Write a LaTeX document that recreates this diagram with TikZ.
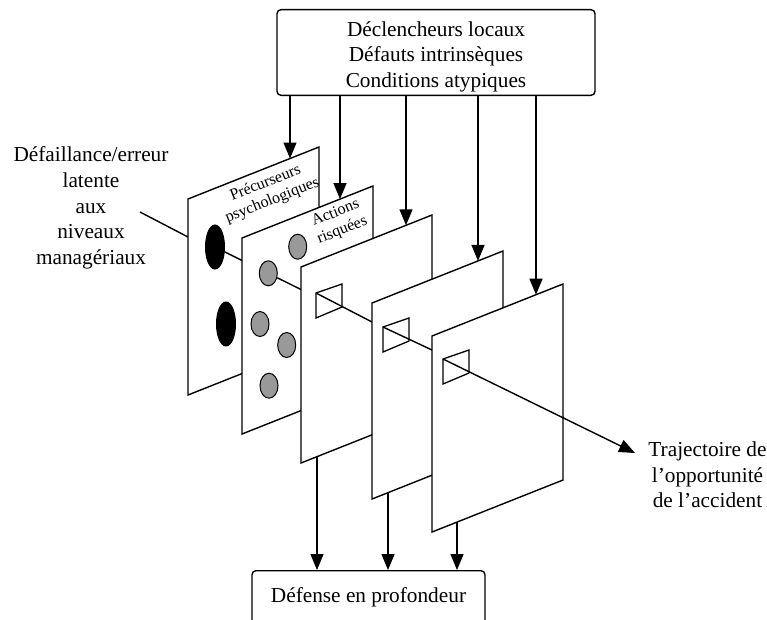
\documentclass[tikz,border=0pt]{standalone}
\usepackage{fontspec}
\setmainfont{Liberation Serif}
\usetikzlibrary{arrows.meta,calc,shapes.geometric}
\definecolor{holegrey}{RGB}{153,153,153}
\begin{document}
\begin{tikzpicture}[x=1pt,y=-1pt,
  lw/.style={line width=1.4pt},
  arr/.style={lw, -{Triangle[length=16pt,width=13pt]}},
  panel/.style={lw, fill=white, line join=miter},
  bigtxt/.style={font=\fontsize{21.3}{25.7}\selectfont, align=center},
  smalltxt/.style={font=\fontsize{16}{18.5}\selectfont, align=center, inner sep=0pt},
  blackhole/.style={ellipse, draw, fill=black, minimum width=19pt, minimum height=44pt, inner sep=0pt, line width=1pt},
  greyhole/.style={ellipse, draw, fill=holegrey, minimum width=18pt, minimum height=25pt, inner sep=0pt, line width=1pt},
  win/.style={line width=1.3pt, line join=miter}
]
\useasboundingbox (0,0) rectangle (767,619);

% top and bottom boxes
\node[bigtxt, draw, lw, rounded corners=4pt, minimum width=318pt, minimum height=85pt] (trig) at (436,52.5)
  {\rule{0pt}{23pt}Déclencheurs locaux\\Défauts intrinsèques\\Conditions atypiques};
\node[bigtxt, draw, lw, rounded corners=4pt, anchor=north, minimum width=233pt,
  text height=15pt, text depth=45pt, inner ysep=17pt] (def) at (368.5,570) {Défense en profondeur};

% side texts
\node[bigtxt] (lat) at (91,208) {Défaillance/erreur\\latente\\aux\\niveaux\\managériaux};
\node[bigtxt] (traj) at (707.5,475) {Trajectoire de\\l’opportunité\\de l’accident};

% trajectory points
\coordinate (ts) at (140,212);
\coordinate (q1) at (188,237);
\coordinate (q2) at (242,260.5);
\coordinate (q3) at (301,289.5);
\coordinate (q4) at (372,322);
\coordinate (q5) at (432,350);
\coordinate (te) at (635,453);

\draw[lw] (ts) -- (q1);

% panel 1
\draw[panel] (188,199) coordinate (p1) -- ++(131,-52) -- ++(0,196) -- ++(-131,52) -- cycle;
\node[smalltxt, rotate=21.6] (lab1) at (269,192) {Précurseurs\\psychologiques};
\node[blackhole] (e1) at (215,247) {};
\node[blackhole] (e2) at (226,324) {};
\draw[lw] (e1) -- (q2);

% panel 2
\draw[panel] (242,238) coordinate (p2) -- ++(131,-52) -- ++(0,196) -- ++(-131,52) -- cycle;
\node[smalltxt, rotate=21.6] (lab2) at (339,222) {Actions\\risquées};
\node[greyhole] (c1) at (297.7,246.7) {};
\node[greyhole] (c2) at (268.3,273.3) {};
\node[greyhole] (c3) at (260,324) {};
\node[greyhole] (c4) at (286.7,345) {};
\node[greyhole] (c5) at (269,385.7) {};
\draw[lw] (c2) -- (q3);

% panel 3
\draw[panel] (301,267) coordinate (p3) -- ++(131,-52) -- ++(0,196) -- ++(-131,52) -- cycle;
\coordinate (w3) at (316,293);
\draw[win] (w3) -- ++(26,-9) -- ++(0,23) -- ++(-26,11) -- cycle;
\draw[lw] (w3) -- (q4);

% panel 4
\draw[panel] (372,303) coordinate (p4) -- ++(131,-52) -- ++(0,196) -- ++(-131,52) -- cycle;
\coordinate (w4) at (383,327);
\draw[win] (w4) -- ++(26,-9) -- ++(0,23) -- ++(-26,11) -- cycle;
\draw[lw] (w4) -- (q5);

% panel 5
\draw[panel] (432,336) coordinate (p5) -- ++(131,-52) -- ++(0,196) -- ++(-131,52) -- cycle;
\coordinate (w5) at (443,359);
\draw[win] (w5) -- ++(26,-9) -- ++(0,23) -- ++(-26,11) -- cycle;
\draw[arr] (w5) -- (te);

% arrows from the triggers to the panels
\coordinate (a1) at (290,158.5);
\coordinate (a2) at (340,199.1);
\coordinate (a3) at (406,225.3);
\coordinate (a4) at (478,260.9);
\coordinate (a5) at (536,294.7);
\foreach \a in {a1,a2,a3,a4,a5}
  \draw[arr] (trig.south -| \a) -- (\a);

% arrows from the panels to the defence box
\coordinate (b1) at (317,456.6);
\coordinate (b2) at (388,492.6);
\coordinate (b3) at (457,522.1);
\foreach \b in {b1,b2,b3}
  \draw[arr] (\b) -- (def.north -| \b);
\end{tikzpicture}
\end{document}
